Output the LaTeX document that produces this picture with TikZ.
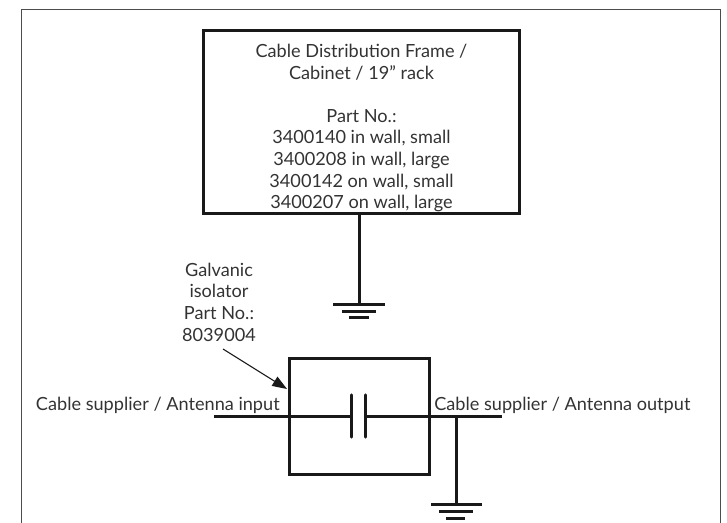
\documentclass[tikz,border=0pt]{standalone}
\usepackage{fontspec}
\usetikzlibrary{arrows.meta}
\setmainfont{Lato}
\begin{document}
\begin{tikzpicture}[x=0.75pt,y=-0.75pt,
  frameline/.style={draw=black!70,line width=1.1pt},
  heavy/.style={draw=black!90,line width=2.25pt},
  condline/.style={draw=black!90,line width=2.6pt},
  label/.style={align=center,font=\fontsize{13.6}{16.2}\selectfont,text=black!80,inner sep=0pt},
  plain/.style={font=\fontsize{13.6}{16}\selectfont,text=black!80,inner sep=0pt}]
\useasboundingbox (0,0) rectangle (727,523);
\coordinate (fbl) at (21.5,523);
\coordinate (ftl) at (21.5,9.5);
\coordinate (ftr) at (720.5,9.5);
\coordinate (fbr) at (720.5,523);
\draw[frameline] (fbl) -- (ftl) -- (ftr) -- (fbr);
% cabinet
\node[heavy,draw,minimum width=237pt,minimum height=137.25pt,inner sep=0pt] (cab) at (361.5,122) {};
\node[label] (cabtxt) at (361.5,128) {Cable Distribution Frame /\\Cabinet / 19” rack\\[16.2pt]Part No.:\\3400140 in wall, small\\3400208 in wall, large\\3400142 on wall, small\\3400207 on wall, large};
\coordinate (g1) at (359.5,304.5);
\draw[condline] (cab.south -| g1) -- (g1);
\coordinate (g1a) at (333,304.5); \coordinate (g1b) at (385,304.5);
\coordinate (g1c) at (342,311.5); \coordinate (g1d) at (376,311.5);
\coordinate (g1e) at (349,317.5); \coordinate (g1f) at (369,317.5);
\draw[condline] (g1a)--(g1b) (g1c)--(g1d) (g1e)--(g1f);
% isolator
\node[heavy,draw,minimum width=105pt,minimum height=87pt,inner sep=0pt] (iso) at (359.5,416.5) {};
\coordinate (inw) at (214,416.5); \coordinate (outw) at (502,416.5);
\coordinate (p1) at (351.5,416.5); \coordinate (p2) at (365.5,416.5);
\coordinate (p1t) at (351.5,395); \coordinate (p1b) at (351.5,437);
\coordinate (p2t) at (365.5,395); \coordinate (p2b) at (365.5,437);
\draw[condline] (inw)--(p1) (p2)--(outw);
\draw[condline,line cap=round] (p1t)--(p1b) (p2t)--(p2b);
\coordinate (g2t) at (456.5,416.5); \coordinate (g2) at (456.5,504.5);
\draw[condline] (g2t)--(g2);
\coordinate (g2a) at (431,504.5); \coordinate (g2b) at (482,504.5);
\coordinate (g2c) at (439,511.5); \coordinate (g2d) at (473,511.5);
\coordinate (g2e) at (446,518.5); \coordinate (g2f) at (465,518.5);
\draw[condline] (g2a)--(g2b) (g2c)--(g2d) (g2e)--(g2f);
% labels
\node[label] (gal) at (219,302) {Galvanic\\isolator\\Part No.:\\8039004};
\coordinate (arrs) at (223,349); \coordinate (arre) at (287,389);
\draw[draw=black!90,line width=0.8pt,-{Triangle[length=11pt,width=8pt]}] (arrs)--(arre);
\node[plain,anchor=base east] (ci) at (280,410) {Cable supplier / Antenna input};
\node[plain,anchor=base west] (co) at (434,410) {Cable supplier / Antenna output};
\end{tikzpicture}
\end{document}
